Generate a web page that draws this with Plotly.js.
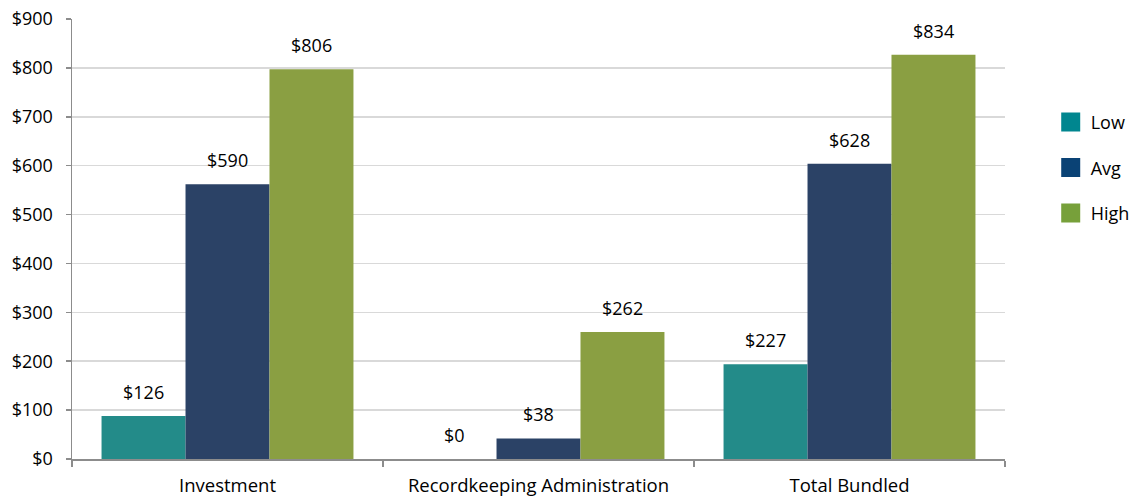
<!DOCTYPE html>
<html>
<head>
<meta charset="utf-8">
<script src="https://cdn.plot.ly/plotly-3.0.1.min.js"></script>
<style>
html,body{margin:0;padding:0;background:#fff;}
#chart{width:1131px;height:498px;}
</style>
</head>
<body>
<div id="chart"></div>
<script>
const categories = ['Investment', 'Recordkeeping Administration', 'Total Bundled'];
const seriesNames = ['Low', 'Avg', 'High'];
// bar heights as drawn in the picture
const lowValues = [88, 0, 194];
const avgValues = [562, 42, 604];
const highValues = [797, 260, 827];
// data labels as printed in the picture
const lowLabels = ['$126', '$0', '$227'];
const avgLabels = ['$590', '$38', '$628'];
const highLabels = ['$806', '$262', '$834'];
const yTickVals = [0, 100, 200, 300, 400, 500, 600, 700, 800, 900];

const colors = ['#238B89', '#2B4266', '#8A9F42'];
const legendColors = ['#00868F', '#0A4275', '#77A03A'];
const values = [lowValues, avgValues, highValues];
const labels = [lowLabels, avgLabels, highLabels];

const W = 1131, H = 498;
const margin = {l: 72, r: 126, t: 19, b: 39, autoexpand: false};
const bargap = 0.19;
const plotW = W - margin.l - margin.r;
const catW = plotW / categories.length;
const barW = catW * (1 - bargap) / seriesNames.length;

const font = "'Open Sans', 'Noto Sans', sans-serif";

const traces = seriesNames.map((name, i) => ({
  type: 'bar',
  name: name,
  legendgroup: name,
  x: categories,
  y: values[i],
  marker: {color: colors[i], line: {width: 0}},
  hoverinfo: 'skip'
}));

const annotations = [];
seriesNames.forEach((name, i) => {
  categories.forEach((c, j) => {
    annotations.push({
      x: c, y: values[i][j], xref: 'x', yref: 'y',
      text: labels[i][j],
      showarrow: false,
      xanchor: 'center', yanchor: 'middle',
      xshift: (i - 1) * barW,
      yshift: 24,
      font: {family: font, size: 18, color: '#000'}
    });
  });
});

const layout = {
  width: W, height: H,
  margin: margin,
  paper_bgcolor: '#fff', plot_bgcolor: '#fff',
  barmode: 'group', bargap: bargap, bargroupgap: 0,
  font: {family: font, size: 18, color: '#000'},
  showlegend: true,
  legend: {
    x: 1.049, xanchor: 'left', xref: 'paper',
    y: 0.807, yanchor: 'top',
    font: {family: font, size: 18, color: '#000'},
    tracegroupgap: 19,
    itemwidth: 30,
    bgcolor: 'rgba(0,0,0,0)'
  },
  xaxis: {
    type: 'category',
    showline: true, linecolor: '#8c8c8c', linewidth: 1.5,
    ticks: 'outside', tickson: 'boundaries', ticklen: 6, tickcolor: '#8c8c8c', tickwidth: 1.5,
    showgrid: false,
    tickfont: {family: font, size: 18.5, color: '#000'},
    ticklabelstandoff: 9
  },
  yaxis: {
    range: [0, 900],
    tickvals: yTickVals,
    ticktext: yTickVals.map(v => '$' + v),
    showline: true, linecolor: '#8c8c8c', linewidth: 1.5,
    ticks: 'outside', ticklen: 5, tickcolor: '#8c8c8c', tickwidth: 1.5,
    showgrid: true, gridcolor: '#d9d9d9', gridwidth: 1.5,
    zeroline: false,
    tickfont: {family: font, size: 18, color: '#000'},
    ticklabelstandoff: 9
  },
  annotations: annotations
};

Plotly.newPlot('chart', traces, layout, {displayModeBar: false, staticPlot: true}).then(gd => {
  // enlarge the legend swatches to match the reference
  gd.querySelectorAll('.legend .traces').forEach((g, i) => {
    const p = g.querySelector('.legendpoints path');
    if (p) {
      p.setAttribute('d', 'M9.5,9.5H-9.5V-9.5H9.5Z');
      p.style.fill = legendColors[i];
    }
  });
  gd.querySelectorAll('.legend clipPath rect, defs clipPath[id*="legend"] rect').forEach(r => {
    r.setAttribute('x', -20);
    r.setAttribute('width', +r.getAttribute('width') + 60);
  });
});
</script>
</body>
</html>
